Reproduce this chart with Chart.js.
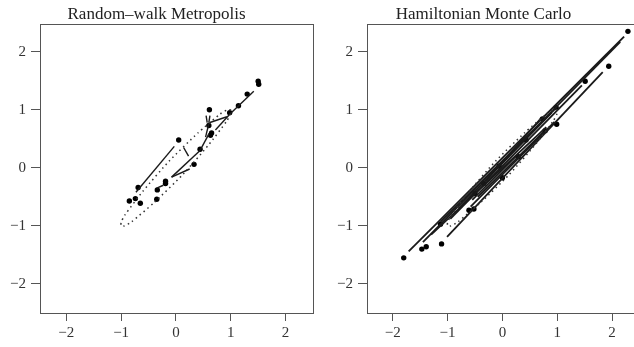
<!DOCTYPE html>
<html>
<head>
<meta charset="utf-8">
<script src="https://cdn.jsdelivr.net/npm/chart.js@4.4.1/dist/chart.umd.min.js"></script>
<style>
  html, body { margin: 0; padding: 0; background: #fff; overflow: hidden; width: 634px; height: 347px; }
  .panel { position: absolute; top: 0; width: 353px; height: 347px; }
  #left { left: 0; }
  #right { left: 327px; }
</style>
</head>
<body>
<div class="panel" id="left"><canvas id="rwmChart"></canvas></div>
<div class="panel" id="right"><canvas id="hmcChart"></canvas></div>
<script>
// tick labels shared by both panels
const tickValues = [-2, -1, 0, 1, 2];
const panelTitles = ['Random\u2013walk Metropolis', 'Hamiltonian Monte Carlo'];

// dotted contour of the target density
const contourX = [1.00, 0.94, 0.81, 0.40, -0.12, -0.60, -0.93, -1.00, -1.00, -0.94, -0.81, -0.40, 0.12, 0.60, 0.93, 1.00, 1.00];
const contourY = [1.00, 1.00, 0.93, 0.60, 0.12, -0.40, -0.81, -0.94, -1.00, -1.00, -0.93, -0.60, -0.12, 0.40, 0.81, 0.94, 1.00];

// random-walk Metropolis states
const rwmX = [1.50, 1.51, 1.30, 1.14, 0.98, 0.61, 0.60, 0.65, 0.63, 0.44, 0.33, 0.05, -0.19, -0.19, -0.34, -0.35, -0.69, -0.74, -0.85, -0.65];
const rwmY = [1.49, 1.44, 1.27, 1.07, 0.95, 1.00, 0.73, 0.60, 0.56, 0.32, 0.06, 0.48, -0.23, -0.27, -0.38, -0.54, -0.34, -0.53, -0.57, -0.61];
// random-walk Metropolis moves [x1, y1, x2, y2]
const rwmMoves = [
    [-0.73, -0.42, -0.03, 0.37],
    [0.14, 0.35, 0.23, 0.20],
    [-0.08, -0.16, 0.44, 0.30],
    [0.44, 0.30, 0.60, 0.58],
    [-0.08, -0.16, 0.25, -0.02],
    [0.54, 0.53, 0.60, 0.76],
    [0.55, 0.90, 0.57, 0.78],
    [0.60, 0.78, 0.62, 0.90],
    [0.72, 0.65, 0.99, 0.93],
    [0.62, 0.78, 0.93, 0.88],
    [0.99, 0.93, 1.42, 1.32],
    [-0.35, -0.35, -0.23, -0.30]
];

// Hamiltonian Monte Carlo states
const hmcX = [-1.80, -1.47, -1.39, -1.11, -1.13, -0.61, -0.52, -0.50, -0.34, -0.06, 0.00, 0.29, 0.43, 0.73, 0.78, 0.98, 0.99, 1.51, 1.94, 2.29];
const hmcY = [-1.55, -1.40, -1.36, -1.31, -0.97, -0.73, -0.71, -0.44, -0.27, 0.03, -0.17, 0.19, 0.48, 0.84, 0.64, 1.04, 0.75, 1.49, 1.75, 2.35];
// Hamiltonian Monte Carlo trajectories [x1, y1, x2, y2]
const hmcMoves = [
    [-1.71, -1.44, 2.22, 2.26],
    [-1.45, -1.28, 2.15, 2.17],
    [-1.13, -0.93, 1.00, 1.05],
    [-1.01, -1.19, 1.83, 1.65],
    [-1.30, -1.15, 0.80, 0.70],
    [-0.95, -0.88, 1.45, 1.42],
    [-0.58, -0.67, 0.95, 0.79],
    [-0.80, -0.70, 0.90, 0.95],
    [-0.45, -0.50, 0.75, 0.62],
    [-0.30, -0.22, 0.70, 0.85],
    [-0.55, -0.55, 0.30, 0.25]
];

const serif = "'Liberation Serif', 'DejaVu Serif', serif";

// draws the closed box round the plot region, like R's box()
const boxPlugin = {
    id: 'plotBox',
    afterDraw(chart) {
        const a = chart.chartArea;
        const ctx = chart.ctx;
        ctx.save();
        ctx.strokeStyle = '#555';
        ctx.lineWidth = 1;
        ctx.strokeRect(Math.round(a.left) + 0.5, Math.round(a.top) + 0.5, Math.round(a.right - a.left), Math.round(a.bottom - a.top));
        ctx.restore();
    }
};

function makePanel(canvasId, title, xs, ys, moves, xRange, yRange, lineWidth) {
    const datasets = [];

    datasets.push({
        data: contourX.map((x, i) => ({ x: x, y: contourY[i] })),
        showLine: true,
        borderColor: '#333',
        borderWidth: 1.5,
        borderDash: [1.5, 3.5],
        pointRadius: 0,
        tension: 0.2,
        fill: false
    });

    moves.forEach(m => {
        datasets.push({
            data: [{ x: m[0], y: m[1] }, { x: m[2], y: m[3] }],
            showLine: true,
            borderColor: '#1a1a1a',
            borderWidth: lineWidth,
            pointRadius: 0,
            fill: false
        });
    });

    datasets.push({
        data: xs.map((x, i) => ({ x: x, y: ys[i] })),
        showLine: false,
        pointRadius: 2.7,
        pointBackgroundColor: '#000',
        pointBorderWidth: 0
    });

    const axisTicks = scale => { scale.ticks = tickValues.map(v => ({ value: v })); };
    const fmt = v => (v < 0 ? '\u2212' + Math.abs(v) : String(v));

    new Chart(document.getElementById(canvasId), {
        type: 'scatter',
        data: { datasets: datasets },
        options: {
            responsive: true,
            maintainAspectRatio: false,
            animation: false,
            events: [],
            layout: { padding: { left: 0, right: 40, top: 0, bottom: 0 } },
            plugins: {
                legend: { display: false },
                tooltip: { enabled: false },
                title: {
                    display: true,
                    text: title,
                    color: '#222',
                    font: { family: serif, size: 17, weight: 'normal', lineHeight: 1.2 },
                    padding: { top: 4, bottom: 0 }
                }
            },
            scales: {
                x: {
                    type: 'linear',
                    min: xRange[0],
                    max: xRange[1],
                    afterBuildTicks: axisTicks,
                    afterFit: scale => { scale.height = 34; },
                    border: { display: true, color: '#555', width: 1 },
                    grid: { drawOnChartArea: false, drawTicks: true, tickLength: 8, color: '#555' },
                    ticks: { color: '#333', padding: 3, maxRotation: 0, font: { family: serif, size: 15 }, callback: fmt }
                },
                y: {
                    type: 'linear',
                    min: yRange[0],
                    max: yRange[1],
                    afterBuildTicks: axisTicks,
                    afterFit: scale => { scale.width = 40; },
                    border: { display: true, color: '#555', width: 1 },
                    grid: { drawOnChartArea: false, drawTicks: true, tickLength: 9, color: '#555' },
                    ticks: { color: '#333', padding: 5, font: { family: serif, size: 15 }, callback: fmt }
                }
            }
        },
        plugins: [boxPlugin]
    });
}

makePanel('rwmChart', panelTitles[0], rwmX, rwmY, rwmMoves, [-2.48, 2.50], [-2.50, 2.47], 1.4);
makePanel('hmcChart', panelTitles[1], hmcX, hmcY, hmcMoves, [-2.47, 2.51], [-2.50, 2.47], 1.8);
</script>
</body>
</html>
